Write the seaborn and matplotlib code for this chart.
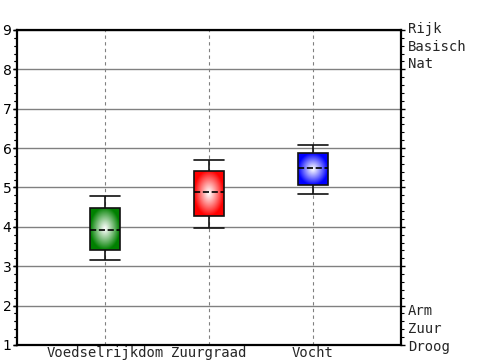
"""
Box plot of Ellenberg-style indicator values (Voedselrijkdom, Zuurgraad, Vocht).
"""
import matplotlib
matplotlib.use("Agg")
import matplotlib.pyplot as plt
from matplotlib.ticker import MultipleLocator
from matplotlib.colors import to_rgb
import numpy as np
import pandas as pd
import seaborn as sns

# five-number summaries per category: min, q1, median, q3, max
categories = ["Voedselrijkdom", "Zuurgraad", "Vocht"]
voedselrijkdom = [3.16, 3.40, 3.92, 4.47, 4.78]
zuurgraad = [3.96, 4.27, 4.88, 5.43, 5.69]
vocht = [4.83, 5.06, 5.49, 5.87, 6.07]
box_colors = ["#008000", "#ff0000", "#0000ff"]
top_label = "Rijk\nBasisch\nNat"
bottom_label = "Arm\nZuur\nDroog"

df = pd.DataFrame(
    {
        "kenmerk": np.repeat(categories, 5),
        "waarde": voedselrijkdom + zuurgraad + vocht,
    }
)

sns.set_style("white")
plt.rcParams.update({
    "font.family": ["DejaVu Sans"],
    "ytick.left": True,
    "ytick.color": "black",
    "ytick.direction": "out",
    "ytick.major.size": 3,
    "ytick.minor.size": 2,
    "ytick.major.width": 1,
    "ytick.minor.width": 0.8,
    "ytick.minor.visible": True,
})
mono = "DejaVu Sans Mono"

fig = plt.figure(figsize=(5, 3.6), dpi=100)
ax = fig.add_axes([0.034, 0.0417, 0.768, 0.875])

sns.boxplot(
    data=df, x="kenmerk", y="waarde", hue="kenmerk", palette=box_colors,
    order=categories, hue_order=categories, legend=False,
    whis=np.inf, width=0.28, linecolor="#111111", linewidth=1.2,
    capwidths=0.28, medianprops={"linestyle": "--", "color": "black"},
    ax=ax,
)

# radial white-to-colour fill inside each box
boxes = [p for p in ax.patches]
for patch, col in zip(boxes, box_colors):
    ext = patch.get_path().get_extents()
    n = 120
    xx, yy = np.meshgrid(np.linspace(-1, 1, n), np.linspace(-1, 1, n))
    r = np.clip(np.sqrt(xx ** 2 + yy ** 2), 0, 1) ** 1.1
    c = np.array(to_rgb(col))
    img = (1 - r[..., None]) * np.ones(3) + r[..., None] * c
    im = ax.imshow(img, extent=[ext.x0, ext.x1, ext.y0, ext.y1], origin="lower",
                   aspect="auto", interpolation="bilinear", zorder=2)
    im.set_clip_path(patch)
    patch.set_facecolor("none")
    patch.set_zorder(2.2)
for ln in ax.lines:
    ln.set_zorder(3)

ax.set_xlim(-0.846, 2.846)
ax.set_ylim(1, 9)
ax.set_xlabel("")
ax.set_ylabel("")
ax.yaxis.set_major_locator(MultipleLocator(1))
ax.yaxis.set_minor_locator(MultipleLocator(0.2))
ax.xaxis.set_minor_locator(plt.NullLocator())
ax.grid(axis="y", which="major", color="#808080", linestyle="-", linewidth=1)
ax.grid(axis="x", color="#808080", linestyle=(0, (3, 3)), linewidth=0.8)
ax.set_axisbelow(True)
for s in ax.spines.values():
    s.set_color("black")
    s.set_linewidth(1.6)

ax.tick_params(axis="y", which="major", labelsize=10, pad=1, length=3)
ax.tick_params(axis="x", length=0, pad=1)
for lab in ax.get_xticklabels():
    lab.set_fontfamily(mono)
    lab.set_fontsize(10)

# second y axis carries the tick marks on both sides
ax2 = ax.twinx()
ax2.set_ylim(1, 9)
ax2.yaxis.set_major_locator(MultipleLocator(1))
ax2.yaxis.set_minor_locator(MultipleLocator(0.2))
ax2.xaxis.set_minor_locator(plt.NullLocator())
ax2.tick_params(axis="y", which="both", right=True, left=True,
                labelright=False, labelleft=False, color="black")
ax2.grid(False)
for s in ax2.spines.values():
    s.set_visible(False)

ax.annotate(top_label, xy=(1, 9), xycoords=ax.get_yaxis_transform(),
            xytext=(5, 6), textcoords="offset points", ha="left", va="top",
            fontsize=10, family=mono, linespacing=1.35, annotation_clip=False)
ax.annotate(bottom_label, xy=(1, 1), xycoords=ax.get_yaxis_transform(),
            xytext=(5, -6.5), textcoords="offset points", ha="left", va="bottom",
            fontsize=10, family=mono, linespacing=1.35, annotation_clip=False)

fig.savefig("out.png", dpi=100)
